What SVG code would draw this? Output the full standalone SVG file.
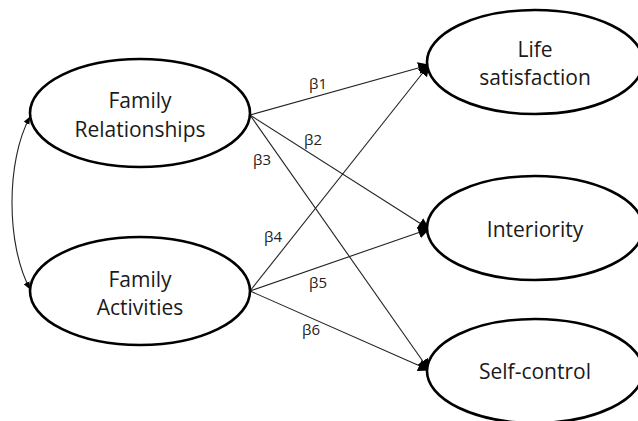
<svg xmlns="http://www.w3.org/2000/svg" width="638" height="421" viewBox="0 0 638 421">
<defs>
<style>
.node ellipse{fill:#fff;stroke:#000;stroke-width:2.6}
.node text{font-family:"Open Sans","Noto Sans",sans-serif;font-size:21px;fill:#1a1a1a;text-anchor:middle}
.edge{stroke:#222;stroke-width:1.1;fill:none}
.lbl{font-family:"Open Sans","Noto Sans",sans-serif;font-size:15px;fill:#222;text-anchor:middle}
</style>
<marker id="ah" viewBox="0 0 10 10" refX="9" refY="5" markerWidth="12" markerHeight="12" markerUnits="userSpaceOnUse" orient="auto">
<path d="M0,0 L10,5 L0,10 z" fill="#000"/>
</marker>
<marker id="sa" viewBox="0 0 10 10" refX="9" refY="5" markerWidth="8" markerHeight="8" markerUnits="userSpaceOnUse" orient="auto-start-reverse">
<path d="M0,1 L10,5 L0,9 z" fill="#000"/>
</marker>
</defs>
<rect width="638" height="421" fill="#fff"/>
<g id="connectors">
<line class="edge" x1="250" y1="115" x2="429" y2="65" marker-end="url(#ah)"/>
<line class="edge" x1="250" y1="115" x2="429" y2="229" marker-end="url(#ah)"/>
<line class="edge" x1="250" y1="115" x2="429" y2="370" marker-end="url(#ah)"/>
<line class="edge" x1="250" y1="291" x2="429" y2="65" marker-end="url(#ah)"/>
<line class="edge" x1="250" y1="291" x2="429" y2="229" marker-end="url(#ah)"/>
<line class="edge" x1="250" y1="291" x2="429" y2="370" marker-end="url(#ah)"/>
<path class="edge" d="M30,117 C6,160 6,245 30,289" marker-start="url(#sa)" marker-end="url(#sa)"/>
<text class="lbl" x="318" y="89">β1</text>
<text class="lbl" x="313" y="145">β2</text>
<text class="lbl" x="262" y="165">β3</text>
<text class="lbl" x="273" y="242">β4</text>
<text class="lbl" x="318" y="288">β5</text>
<text class="lbl" x="311" y="335">β6</text>
</g>
<g id="family-relationships" class="node">
<ellipse cx="140" cy="113" rx="110" ry="54"/>
<text x="140" y="108">Family</text>
<text x="140" y="137">Relationships</text>
</g>
<g id="family-activities" class="node">
<ellipse cx="140" cy="291" rx="110" ry="54"/>
<text x="140" y="287">Family</text>
<text x="140" y="315">Activities</text>
</g>
<g id="life-satisfaction" class="node">
<ellipse cx="535" cy="62" rx="108" ry="52"/>
<text x="535" y="57">Life</text>
<text x="535" y="85">satisfaction</text>
</g>
<g id="interiority" class="node">
<ellipse cx="535" cy="228" rx="108" ry="52"/>
<text x="535" y="237">Interiority</text>
</g>
<g id="self-control" class="node">
<ellipse cx="535" cy="371" rx="108" ry="52"/>
<text x="535" y="379">Self-control</text>
</g>
</svg>
